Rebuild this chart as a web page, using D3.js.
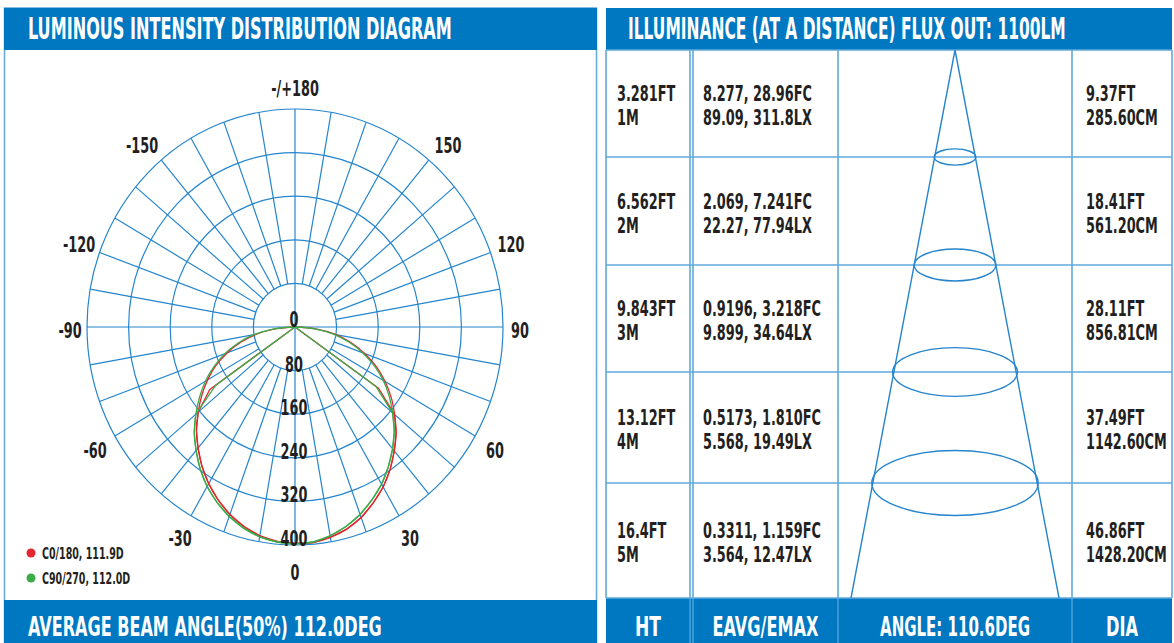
<!DOCTYPE html>
<html>
<head>
<meta charset="utf-8">
<style>
  body { margin: 0; background: #fff; }
  svg { display: block; }
  text { font-family: 'Liberation Sans Narrow', 'DejaVu Sans Condensed', 'DejaVu Sans', sans-serif; font-weight: bold; fill: #231f20; }
  .white { fill: #fff; }
</style>
</head>
<body>
<svg width="1174" height="643"></svg>
<script src="https://d3js.org/d3.v7.min.js"></script>
<script>
// ---- data ----
let ringValues = [80, 160, 240, 320, 400];
let ringLabels = ["0", "80", "160", "240", "320", "400"];
let angleTicks = [0, 30, 60, 90, 120, 150, 180, -150, -120, -90, -60, -30];
let angleTickLabels = ["0", "30", "60", "90", "120", "150", "-/+180", "-150", "-120", "-90", "-60", "-30"];

let angles = [-90,-85,-80,-75,-70,-65,-60,-55,-50,-45,-40,-35,-30,-25,-20,-15,-10,-5,0,5,10,15,20,25,30,35,40,45,50,55,60,65,70,75,80,85,90];
let redArc   = [0,36,74,108,139,168,194,219,243,268,290,312,332,350,366,379,389,395,397,397,392,384,372,356,339,319,297,275,250,226,200,173,143,112,79,40,0];
let greenArc = [0,40,79,113,144,172,199,224,249,274,296,318,338,355,370,382,391,396,398,396,389,379,366,350,333,313,292,270,245,221,196,168,139,108,75,38,0];

let beamAngles = [-60,-55,-50,-45,-40,-35,-30,-25,-20,-15,-10,-5,0,5,10,15,20,25,30,35,40,45,50,55,60];
let redBeam   = [0,200,243,268,290,312,332,350,366,379,389,395,397,397,392,384,372,356,339,319,297,275,250,196,0];
let greenBeam = [0,186,249,274,296,318,338,355,370,382,391,396,398,396,389,379,366,350,333,313,292,270,245,190,0];

let legendNames = ["C0/180, 111.9D", "C90/270, 112.0D"];
let legendColors = ["#e3262f", "#3aac48"];

let distM   = [1, 2, 3, 4, 5];
let htFt    = ["3.281FT", "6.562FT", "9.843FT", "13.12FT", "16.4FT"];
let htM     = ["1M", "2M", "3M", "4M", "5M"];
let fcText  = ["8.277, 28.96FC", "2.069, 7.241FC", "0.9196, 3.218FC", "0.5173, 1.810FC", "0.3311, 1.159FC"];
let lxText  = ["89.09, 311.8LX", "22.27, 77.94LX", "9.899, 34.64LX", "5.568, 19.49LX", "3.564, 12.47LX"];
let diaFt   = ["9.37FT", "18.41FT", "28.11FT", "37.49FT", "46.86FT"];
let diaCm   = ["285.60CM", "561.20CM", "856.81CM", "1142.60CM", "1428.20CM"];
let diaM    = [2.856, 5.612, 8.568, 11.426, 14.282];
let footCols = ["HT", "EAVG/EMAX", "ANGLE: 110.6DEG", "DIA"];

// ---- layout ----
let blue = "#0077c1";
let gridBlue = "#2585cd";
let tableBlue = "#5fa9dd";
let svg = d3.select("svg");

// condensed text: measure a sample and squeeze everything to the reference width
let probe = svg.append("text").attr("font-size", 21).text("8.277, 28.96FC");
let COND = 109 / probe.node().getComputedTextLength();
probe.remove();

function ctext(g, str, x, y, size, anchor) {
    return g.append("text")
        .attr("transform", "translate(" + x + "," + y + ") scale(" + COND + ",1)")
        .attr("font-size", size)
        .attr("text-anchor", anchor || "start")
        .text(str);
}
// white text squeezed to a given width
function wtext(g, str, x, y, size, len, anchor) {
    let t = g.append("text")
        .attr("font-size", size)
        .attr("text-anchor", anchor || "start")
        .attr("class", "white")
        .text(str);
    let k = len / t.node().getComputedTextLength();
    t.attr("transform", "translate(" + x + "," + y + ") scale(" + k + ",1)");
    return t;
}

// ===== left panel =====
let left = svg.append("g");
left.append("rect").attr("x", 4.5).attr("y", 8).attr("width", 592).attr("height", 640)
    .attr("fill", "none").attr("stroke", tableBlue).attr("stroke-width", 1.5);
left.append("rect").attr("x", 4).attr("y", 8).attr("width", 593).attr("height", 42).attr("fill", blue);
left.append("rect").attr("x", 4).attr("y", 600).attr("width", 593).attr("height", 43).attr("fill", blue);
wtext(left, "LUMINOUS INTENSITY DISTRIBUTION DIAGRAM", 28, 39, 30, 424);
wtext(left, "AVERAGE BEAM ANGLE(50%) 112.0DEG", 28, 636, 26, 354);

let cx = 295, cy = 327, RX = 208, RY = 218;
let rs = d3.scaleLinear().domain([0, 400]).range([0, 1]);
function pt(a, v) {
    let t = a * Math.PI / 180;
    return [cx + rs(v) * RX * Math.sin(t), cy + rs(v) * RY * Math.cos(t)];
}

let grid = left.append("g").attr("fill", "none").attr("stroke", gridBlue).attr("stroke-width", 1.2);
grid.selectAll("ellipse").data(ringValues).join("ellipse")
    .attr("cx", cx).attr("cy", cy)
    .attr("rx", d => rs(d) * RX).attr("ry", d => rs(d) * RY);
grid.selectAll("line").data(d3.range(-180, 180, 10)).join("line")
    .attr("x1", d => pt(d, d % 90 === 0 ? 0 : ringValues[0])[0])
    .attr("y1", d => pt(d, d % 90 === 0 ? 0 : ringValues[0])[1])
    .attr("x2", d => pt(d, 400)[0])
    .attr("y2", d => pt(d, 400)[1]);

// curves
let smooth = d3.line().curve(d3.curveCatmullRom);
let straight = d3.line();
function curve(gen, angs, vals, color) {
    left.append("path")
        .attr("d", gen(angs.map((a, i) => pt(a, vals[i]))))
        .attr("fill", "none").attr("stroke", color).attr("stroke-width", 1.3);
}
curve(smooth, angles, redArc, legendColors[0]);
curve(straight, beamAngles, redBeam, legendColors[0]);
curve(smooth, angles, greenArc, legendColors[1]);
curve(straight, beamAngles, greenBeam, legendColors[1]);

// ring labels
let ringG = left.append("g");
ringLabels.forEach((s, i) => {
    let v = i * 80;
    ctext(ringG, s, cx - 1, cy + rs(v) * RY + (i === 0 ? 0 : 1), 21, "middle");
});
// angle labels: offsets of label centres from the pole (right side, mirrored on the left)
let tickOffset = { 0: [0, 245], 30: [115, 211], 60: [200, 123], 90: [225, 3], 120: [216, -83], 150: [153, -182], 180: [0, -239] };
let angG = left.append("g");
angleTicks.forEach((a, i) => {
    let o = tickOffset[Math.abs(a)];
    let x = cx + (a < 0 ? -o[0] : o[0]);
    let y = cy + o[1] + 7.5;
    ctext(angG, angleTickLabels[i], x, y, 21, "middle");
});

// legend
let leg = left.append("g");
legendNames.forEach((n, i) => {
    leg.append("circle").attr("cx", 31).attr("cy", 553 + i * 25).attr("r", 4.5).attr("fill", legendColors[i]);
    ctext(leg, n, 42, 558.5 + i * 25, 15.5);
});

// ===== right panel =====
let right = svg.append("g");
let colX = [606, 690, 693, 838, 1072, 1172];
let rowY = d3.scaleLinear().domain([0, 1, 2, 3, 4, 5]).range([50, 157, 265, 372, 483, 598]);

right.append("rect").attr("x", 606).attr("y", 8).attr("width", 566).attr("height", 42).attr("fill", blue);
right.append("rect").attr("x", 606).attr("y", 598).attr("width", 566).attr("height", 45).attr("fill", blue);
wtext(right, "ILLUMINANCE (AT A DISTANCE) FLUX OUT: 1100LM", 628, 39, 30, 438);

let tg = right.append("g").attr("stroke", tableBlue).attr("stroke-width", 1.6);
tg.selectAll("line.v").data(colX).join("line").attr("class", "v")
    .attr("x1", d => d).attr("x2", d => d).attr("y1", 50).attr("y2", 598);
tg.selectAll("line.h").data(distM.concat([0])).join("line").attr("class", "h")
    .attr("x1", 606).attr("x2", 1172).attr("y1", d => rowY(d)).attr("y2", d => rowY(d));
// faint separators inside footer
right.append("g").attr("stroke", "#6fb6e6").attr("stroke-width", 1)
    .selectAll("line").data(colX.slice(1, 5)).join("line")
    .attr("x1", d => d).attr("x2", d => d).attr("y1", 598).attr("y2", 643);

// footer labels
let footX = [(606 + 690) / 2, (693 + 838) / 2, (838 + 1072) / 2, (1072 + 1172) / 2];
let footLen = [26, 106, 150, 32];
footCols.forEach((s, i) => wtext(right, s, footX[i], 636, 26, footLen[i], "middle"));

// cone
let coneX = (838 + 1072) / 2;
let hw = d3.scaleLinear().domain([0, 7.141]).range([0, 104]);
let cone = right.append("g").attr("fill", "none").attr("stroke", gridBlue).attr("stroke-width", 1.4);
cone.append("path").attr("d", d3.line()([
    [coneX - hw(diaM[4] / 2), rowY(5)], [coneX, rowY(0)], [coneX + hw(diaM[4] / 2), rowY(5)]
]));
cone.selectAll("ellipse").data(distM.slice(0, 4)).join("ellipse")
    .attr("cx", coneX).attr("cy", d => rowY(d))
    .attr("rx", (d, i) => hw(diaM[i] / 2))
    .attr("ry", (d, i) => hw(diaM[i] / 2) * 0.39);

// table text
let txt = right.append("g");
distM.forEach((d, i) => {
    let mid = (rowY(d - 1) + rowY(d)) / 2;
    ctext(txt, htFt[i], 617, mid - 2.5, 21);
    ctext(txt, htM[i], 617, mid + 21.5, 21);
    ctext(txt, fcText[i], 703, mid - 2.5, 21);
    ctext(txt, lxText[i], 703, mid + 21.5, 21);
    ctext(txt, diaFt[i], 1086, mid - 2.5, 21);
    ctext(txt, diaCm[i], 1086, mid + 21.5, 21);
});
</script>
</body>
</html>
